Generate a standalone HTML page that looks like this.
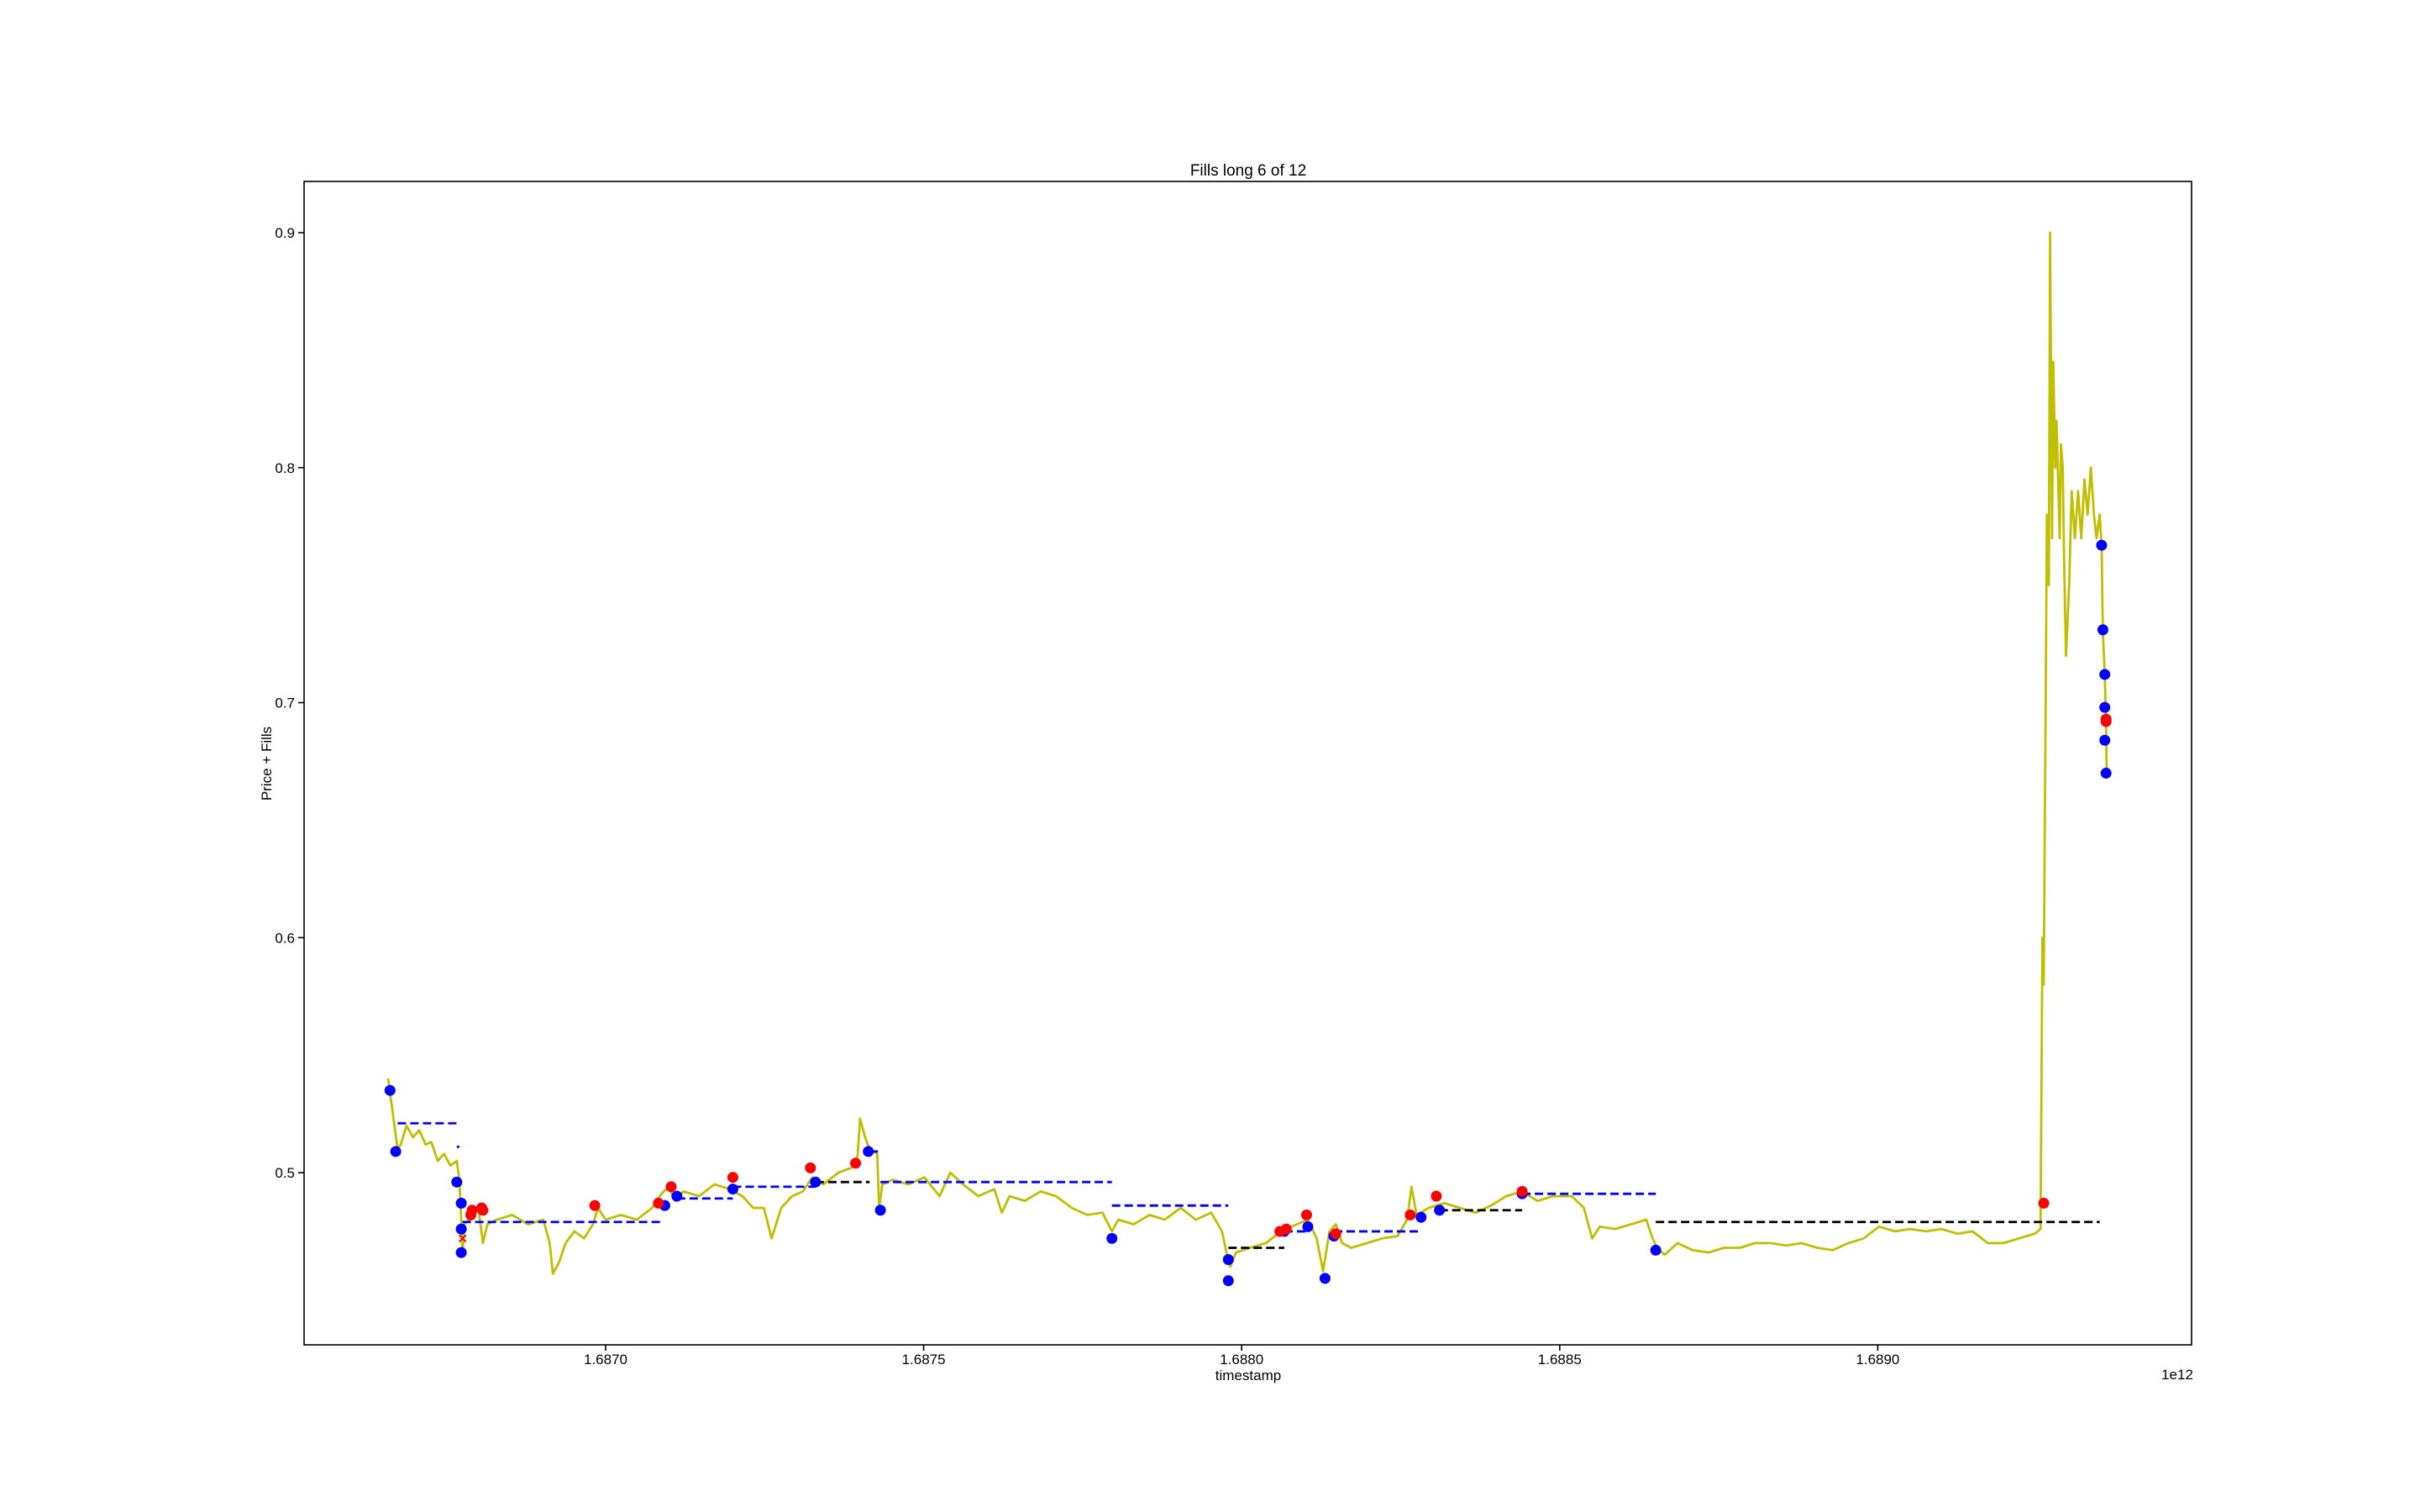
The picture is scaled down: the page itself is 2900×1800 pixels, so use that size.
<!DOCTYPE html>
<html><head><meta charset="utf-8"><style>
html,body{margin:0;padding:0;background:#fff;}
svg{display:block;font-family:"Liberation Sans",sans-serif;}
</style></head><body>
<svg id="chart" width="2900" height="1800" viewBox="0 0 2900 1800" xmlns="http://www.w3.org/2000/svg">
<rect width="2900" height="1800" fill="#fff"/>
<text x="1486" y="209" font-size="19" text-anchor="middle">Fills long 6 of 12</text>
<text x="1486" y="1643" font-size="17" text-anchor="middle">timestamp</text>
<text x="2592" y="1642" font-size="17" text-anchor="middle">1e12</text>
<text transform="translate(323,909) rotate(-90)" font-size="17" text-anchor="middle">Price + Fills</text>
<g id="plot"></g>
<rect x="362" y="216" width="2247" height="1385" fill="none" stroke="#000" stroke-width="1.6"/>
</svg>
<script>
// time unit: 1e8 ms offset from 1.686e12
const priceT=[6.58,6.63,6.68,6.73,6.78,6.87,6.97,7.07,7.17,7.26,7.36,7.46,7.56,7.66,7.70,7.73,7.75,7.78,7.85,7.92,8.00,8.07,8.14,8.29,8.53,8.78,9.02,9.12,9.17,9.27,9.37,9.51,9.66,9.80,9.88,10.00,10.24,10.49,10.73,10.85,10.98,11.10,11.22,11.47,11.71,11.95,12.15,12.32,12.49,12.61,12.76,12.93,13.10,13.25,13.42,13.66,13.86,13.96,14.00,14.08,14.15,14.27,14.30,14.35,14.52,14.76,15.01,15.25,15.42,15.62,15.86,16.11,16.23,16.35,16.59,16.84,17.08,17.33,17.57,17.81,17.96,18.06,18.30,18.55,18.79,19.04,19.28,19.52,19.69,19.77,19.82,19.91,20.13,20.38,20.62,20.87,21.04,21.18,21.28,21.38,21.48,21.58,21.72,21.97,22.21,22.45,22.60,22.67,22.75,22.94,23.19,23.43,23.68,23.92,24.16,24.41,24.65,24.90,25.19,25.38,25.51,25.63,25.87,26.12,26.36,26.46,26.53,26.65,26.85,27.09,27.34,27.58,27.83,28.07,28.32,28.56,28.80,29.05,29.29,29.54,29.78,30.02,30.27,30.51,30.76,31.00,31.25,31.49,31.73,31.98,32.22,32.47,32.56,32.59,32.61,32.64,32.66,32.69,32.71,32.74,32.76,32.79,32.81,32.86,32.88,32.91,32.93,32.96,33.01,33.05,33.10,33.15,33.20,33.25,33.30,33.35,33.40,33.44,33.49,33.52,33.54,33.57,33.59,33.60];
const priceV=[0.540,0.530,0.520,0.510,0.512,0.520,0.515,0.518,0.512,0.513,0.505,0.508,0.503,0.505,0.497,0.480,0.465,0.478,0.480,0.485,0.485,0.470,0.478,0.480,0.482,0.478,0.480,0.470,0.457,0.462,0.470,0.475,0.472,0.478,0.485,0.480,0.482,0.480,0.485,0.490,0.494,0.488,0.492,0.490,0.495,0.493,0.490,0.485,0.485,0.472,0.485,0.490,0.492,0.498,0.495,0.500,0.502,0.507,0.523,0.515,0.510,0.508,0.485,0.495,0.497,0.495,0.498,0.490,0.500,0.495,0.490,0.493,0.483,0.490,0.488,0.492,0.490,0.485,0.482,0.483,0.475,0.480,0.478,0.482,0.480,0.485,0.480,0.483,0.475,0.465,0.460,0.466,0.468,0.470,0.475,0.478,0.480,0.472,0.458,0.475,0.478,0.470,0.468,0.470,0.472,0.473,0.480,0.494,0.482,0.485,0.487,0.485,0.483,0.486,0.490,0.492,0.488,0.490,0.490,0.485,0.472,0.477,0.476,0.478,0.480,0.472,0.468,0.465,0.470,0.467,0.466,0.468,0.468,0.470,0.470,0.469,0.470,0.468,0.467,0.470,0.472,0.477,0.475,0.476,0.475,0.476,0.474,0.475,0.470,0.470,0.472,0.474,0.476,0.600,0.580,0.700,0.780,0.750,0.900,0.770,0.845,0.800,0.820,0.770,0.810,0.800,0.760,0.720,0.750,0.790,0.770,0.790,0.770,0.795,0.780,0.800,0.780,0.770,0.780,0.767,0.730,0.712,0.690,0.670];
const buyT=[6.61,6.70,7.66,7.73,7.73,7.73,10.93,11.12,12.00,13.30,14.13,14.32,17.96,19.79,19.79,20.67,21.04,21.31,21.45,22.82,23.11,24.41,26.51,33.52,33.54,33.57,33.57,33.57,33.59];
const buyV=[0.535,0.509,0.496,0.487,0.476,0.466,0.486,0.490,0.493,0.496,0.509,0.484,0.472,0.463,0.454,0.475,0.477,0.455,0.473,0.481,0.484,0.491,0.467,0.767,0.731,0.712,0.698,0.684,0.670];
const sellT=[7.88,7.90,8.05,8.07,9.83,10.83,11.03,12.00,13.22,13.93,20.60,20.70,21.02,21.48,22.65,23.06,24.41,32.61,33.59,33.59];
const sellV=[0.482,0.484,0.485,0.484,0.486,0.487,0.494,0.498,0.502,0.504,0.475,0.476,0.482,0.474,0.482,0.490,0.492,0.487,0.692,0.693];
const crossT=[7.75];
const crossV=[0.472];
const levelStart=[6.73,7.66,7.75,11.12,12.00,13.30,14.15,14.32,17.96,19.79,20.67,21.45,23.11,24.41,26.51];
const levelEnd=[7.68,7.70,10.90,12.00,13.30,14.15,14.32,17.96,19.79,20.67,21.04,22.82,24.41,26.51,33.49];
const levelV=[0.521,0.511,0.479,0.489,0.494,0.496,0.509,0.496,0.486,0.468,0.475,0.475,0.484,0.491,0.479];
const levelColor=["blue","blue","blue","blue","blue","black","blue","blue","blue","black","blue","blue","black","blue","black"];
const xTicks=[10,15,20,25,30];
const xTickLabels=["1.6870","1.6875","1.6880","1.6885","1.6890"];
const yTicks=[0.5,0.6,0.7,0.8,0.9];
const yTickLabels=["0.5","0.6","0.7","0.8","0.9"];

const X=u=>721+(u-10)*75.72;
const Y=v=>1396-(v-0.5)*2797.5;
const NS="http://www.w3.org/2000/svg";
const svg=document.getElementById('chart');
const plot=document.getElementById('plot');
function mk(tag,attrs,parent){const e=document.createElementNS(NS,tag);for(const k in attrs)e.setAttribute(k,attrs[k]);(parent||plot).appendChild(e);return e;}

xTicks.forEach((t,i)=>{
  const l=mk('line',{x1:X(t),x2:X(t),y1:1601,y2:1608,stroke:'#000','stroke-width':1.6},svg);
  
  
  const tx=mk('text',{x:X(t),y:1624,'font-size':17,'text-anchor':'middle'},svg);
  tx.textContent=xTickLabels[i];
  
  
});
yTicks.forEach((v,i)=>{
  const l=mk('line',{x1:355,x2:362,y1:Y(v),y2:Y(v),stroke:'#000','stroke-width':1.6},svg);
  
  
  const tx=mk('text',{x:351,y:Y(v)+6,'font-size':17,'text-anchor':'end'},svg);
  tx.textContent=yTickLabels[i];
  
  
});

const pts=priceT.map((t,i)=>X(t).toFixed(1)+','+Y(priceV[i]).toFixed(1)).join(' ');
const pl=mk('polyline',{points:pts,fill:'none',stroke:'#bfbf00','stroke-width':2.8,'stroke-linejoin':'round'});



levelStart.forEach((s,i)=>{
  const l=mk('line',{x1:X(s),x2:X(levelEnd[i]),y1:Y(levelV[i]),y2:Y(levelV[i]),stroke:levelColor[i],'stroke-width':2.8,'stroke-dasharray':'10,5'});
  
  
});
buyT.forEach((t,i)=>{
  const c=mk('circle',{cx:X(t),cy:Y(buyV[i]),r:6.5,fill:'blue'});
  
  
});
sellT.forEach((t,i)=>{
  const c=mk('circle',{cx:X(t),cy:Y(sellV[i]),r:6.5,fill:'red'});
  
  
});
crossT.forEach((t,i)=>{
  const cx=X(t),cy=Y(crossV[i]);
  const p=mk('path',{d:`M${cx-4},${cy-4}L${cx+4},${cy+4}M${cx-4},${cy+4}L${cx+4},${cy-4}`,stroke:'red','stroke-width':2,fill:'none'});
  
  
});
</script>
</body></html>
